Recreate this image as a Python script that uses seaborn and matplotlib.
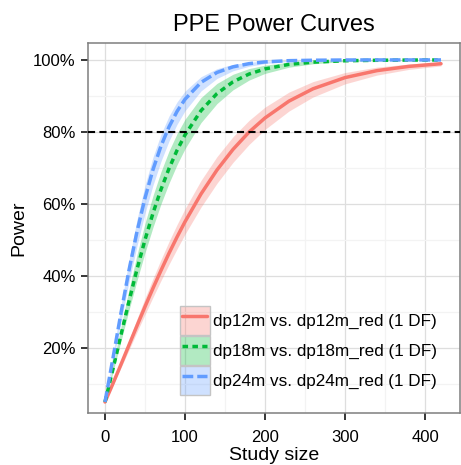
import numpy as np
import pandas as pd
import matplotlib
matplotlib.use("Agg")
import matplotlib.pyplot as plt
import seaborn as sns
from matplotlib.patches import Patch
from matplotlib.lines import Line2D
from matplotlib.legend_handler import HandlerLine2D
from matplotlib.ticker import FuncFormatter, MultipleLocator

# ---- data ----
study_size = [0, 10, 20, 30, 40, 50, 60, 70, 80, 90, 100, 120, 140, 160, 180, 200, 230, 260, 300, 340, 380, 420]

red_mid = [0.05, 0.1015, 0.1544, 0.2082, 0.2618, 0.3147, 0.3660, 0.4154, 0.4630, 0.5080, 0.5505, 0.6277, 0.6944, 0.7515, 0.7995, 0.8388, 0.8856, 0.9198, 0.9509, 0.9703, 0.9821, 0.9895]
red_lo = [0.05, 0.0971, 0.1455, 0.1947, 0.2444, 0.2930, 0.3410, 0.3873, 0.4322, 0.4749, 0.5160, 0.5913, 0.6575, 0.7155, 0.7650, 0.8070, 0.8581, 0.8969, 0.9335, 0.9579, 0.9737, 0.9834]
red_hi = [0.05, 0.1060, 0.1639, 0.2224, 0.2809, 0.3381, 0.3930, 0.4456, 0.4957, 0.5426, 0.5866, 0.6652, 0.7315, 0.7867, 0.8320, 0.8689, 0.9107, 0.9398, 0.9650, 0.9800, 0.9887, 0.9938]

green_mid = [0.05, 0.1419, 0.2367, 0.3300, 0.4186, 0.5004, 0.5745, 0.6405, 0.6983, 0.7487, 0.7916, 0.8592, 0.9066, 0.9391, 0.9607, 0.9750, 0.9877, 0.9938, 0.9977, 0.9990, 0.9996, 0.9999]
green_lo = [0.05, 0.1336, 0.2196, 0.3053, 0.3873, 0.4646, 0.5355, 0.6002, 0.6575, 0.7088, 0.7534, 0.8259, 0.8788, 0.9170, 0.9439, 0.9625, 0.9798, 0.9892, 0.9956, 0.9981, 0.9991, 0.9996]
green_hi = [0.05, 0.1532, 0.2595, 0.3626, 0.4591, 0.5462, 0.6231, 0.6898, 0.7471, 0.7951, 0.8352, 0.8953, 0.9348, 0.9602, 0.9759, 0.9855, 0.9935, 0.9971, 0.9989, 0.9996, 0.9999, 1.0]

blue_mid = [0.05, 0.1723, 0.2976, 0.4162, 0.5231, 0.6162, 0.6955, 0.7610, 0.8140, 0.8568, 0.8907, 0.9375, 0.9652, 0.9808, 0.9896, 0.9945, 0.9979, 0.9991, 0.9998, 1.0, 1.0, 1.0]
blue_lo = [0.05, 0.1607, 0.2743, 0.3835, 0.4841, 0.5741, 0.6523, 0.7188, 0.7748, 0.8210, 0.8588, 0.9139, 0.9486, 0.9698, 0.9823, 0.9899, 0.9959, 0.9982, 0.9994, 0.9998, 0.9999, 1.0]
blue_hi = [0.05, 0.1833, 0.3182, 0.4444, 0.5565, 0.6516, 0.7302, 0.7937, 0.8440, 0.8831, 0.9134, 0.9533, 0.9756, 0.9876, 0.9936, 0.9968, 0.9989, 0.9996, 0.9999, 1.0, 1.0, 1.0]

series_labels = ["dp12m vs. dp12m_red (1 DF)",
                 "dp18m vs. dp18m_red (1 DF)",
                 "dp24m vs. dp24m_red (1 DF)"]
threshold = 0.8
x_ticks = [0, 100, 200, 300, 400]
y_ticks = [0.2, 0.4, 0.6, 0.8, 1.0]

# ---- styling ----
colors = ["#F8766D", "#00BA38", "#619CFF"]
dash_styles = ["", (1.6, 1.25), (3.1, 1.15)]
LW = 2.5

sns.set_theme(style="white")
plt.rcParams["font.family"] = ["Liberation Sans", "DejaVu Sans"]

mids = [red_mid, green_mid, blue_mid]
los = [red_lo, green_lo, blue_lo]
his = [red_hi, green_hi, blue_hi]

df = pd.concat([
    pd.DataFrame({"n": study_size, "power": m, "series": lab})
    for m, lab in zip(mids, series_labels)
], ignore_index=True)

fig = plt.figure(figsize=(4.61, 4.65), dpi=100)
ax = fig.add_axes([88 / 461, 1 - 413 / 465, (460 - 88) / 461, (413 - 43) / 465])

# bands
for lo, hi, c in zip(los, his, colors):
    ax.fill_between(study_size, lo, hi, color=c, alpha=0.3, linewidth=0, zorder=2)

sns.lineplot(data=df, x="n", y="power", hue="series", style="series",
             palette=dict(zip(series_labels, colors)),
             dashes=dict(zip(series_labels, dash_styles)),
             linewidth=LW, legend=False, ax=ax, zorder=3)

ax.axhline(threshold, color="black", linestyle=(0, (3.4, 2.1)), linewidth=1.5, zorder=4)

ax.set_xlim(-21.25, 443.75)
ax.set_ylim(0.0194, 1.047)
ax.set_xticks(x_ticks)
ax.set_yticks(y_ticks)
ax.xaxis.set_minor_locator(MultipleLocator(50))
ax.yaxis.set_minor_locator(MultipleLocator(0.1))
ax.yaxis.set_major_formatter(FuncFormatter(lambda v, p: f"{v*100:.0f}%"))

ax.grid(True, which="major", color="#DEDEDE", linewidth=0.9, zorder=0)
ax.grid(True, which="minor", color="#F3F3F3", linewidth=0.9, zorder=0)
ax.set_axisbelow(True)

for s in ax.spines.values():
    s.set_color("#7F7F7F")
    s.set_linewidth(1.1)

ax.tick_params(axis="both", which="major", direction="out", length=5, width=1.1,
               color="black", labelsize=12, labelcolor="black",
               bottom=True, left=True)
ax.tick_params(axis="x", which="major", pad=7)
ax.tick_params(axis="y", which="major", pad=4)
ax.tick_params(axis="both", which="minor", length=0)

ax.set_title("PPE Power Curves", fontsize=17, color="black", pad=9)
ax.set_xlabel("Study size", fontsize=14, color="black", labelpad=2)
ax.set_ylabel("Power", fontsize=14, color="black", labelpad=4)

handles = []
for c, d in zip(colors, dash_styles):
    patch = Patch(facecolor=matplotlib.colors.to_rgba(c, 0.3), edgecolor="#C4C4C4", linewidth=1.0)
    if d == "":
        line = Line2D([], [], color=c, linewidth=LW, linestyle="-")
    else:
        line = Line2D([], [], color=c, linewidth=LW, dashes=d)
    handles.append((patch, line))

leg = ax.legend(handles, series_labels, loc="lower left",
                bbox_to_anchor=(0.247, 0.048), frameon=False, fontsize=12.3,
                handlelength=1.75, handleheight=2.28, labelspacing=0.03,
                handletextpad=0.2, borderpad=0, borderaxespad=0,
                handler_map={Line2D: HandlerLine2D(numpoints=2, marker_pad=0.15)})
for t in leg.get_texts():
    t.set_color("black")

fig.savefig("out.png", dpi=100)
